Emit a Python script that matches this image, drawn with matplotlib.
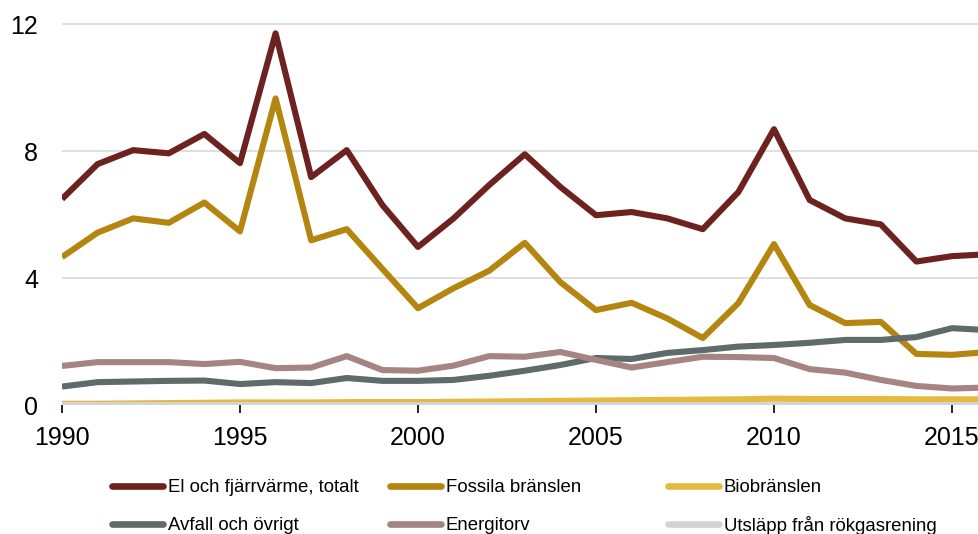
import numpy as np
import matplotlib.pyplot as plt
from matplotlib.lines import Line2D

plt.rcParams['font.family'] = ['Liberation Sans', 'DejaVu Sans']

years = np.arange(1990, 2017)

el_fjarrvarme = [6.5, 7.6, 8.04, 7.94, 8.55, 7.63, 11.72, 7.19, 8.04, 6.31,
                 4.99, 5.89, 6.94, 7.91, 6.88, 5.99, 6.09, 5.89, 5.55, 6.72,
                 8.7, 6.47, 5.89, 5.70, 4.53, 4.70, 4.76]
fossila = [4.67, 5.44, 5.89, 5.75, 6.39, 5.48, 9.67, 5.2, 5.55, 4.3,
           3.06, 3.69, 4.24, 5.12, 3.88, 3.0, 3.23, 2.74, 2.12, 3.22,
           5.08, 3.16, 2.59, 2.63, 1.62, 1.59, 1.68]
biobranslen = [0.05, 0.05, 0.06, 0.07, 0.08, 0.09, 0.09, 0.09, 0.1, 0.1,
               0.1, 0.11, 0.12, 0.13, 0.14, 0.15, 0.16, 0.17, 0.18, 0.19,
               0.21, 0.2, 0.2, 0.2, 0.19, 0.19, 0.19]
avfall = [0.59, 0.73, 0.75, 0.77, 0.78, 0.67, 0.73, 0.70, 0.86, 0.77,
          0.77, 0.8, 0.93, 1.09, 1.27, 1.49, 1.46, 1.65, 1.74, 1.85,
          1.9, 1.97, 2.06, 2.06, 2.15, 2.43, 2.37]
energitorv = [1.24, 1.36, 1.36, 1.36, 1.30, 1.37, 1.17, 1.19, 1.55, 1.11,
              1.09, 1.25, 1.55, 1.53, 1.68, 1.43, 1.19, 1.36, 1.53, 1.52,
              1.49, 1.14, 1.03, 0.8, 0.61, 0.53, 0.56]
rokgasrening = [0.02] * len(years)

series = [
    ("El och fjärrvärme, totalt", el_fjarrvarme, "#6d221f"),
    ("Fossila bränslen", fossila, "#b5860f"),
    ("Biobränslen", biobranslen, "#e6b93f"),
    ("Avfall och övrigt", avfall, "#5f6b6b"),
    ("Energitorv", energitorv, "#a68481"),
    ("Utsläpp från rökgasrening", rokgasrening, "#d3d3d3"),
]

W, H = 979, 534
fig = plt.figure(figsize=(W / 100, H / 100), dpi=100)
ax = fig.add_axes([0.0633, 0.241, 0.9367, 0.731])

for label, values, color in series:
    ax.plot(years, values, color=color, lw=4.4, label=label,
            solid_joinstyle='round', solid_capstyle='butt')

ax.set_xlim(1990, 1990 + 917 / 35.6)
ax.set_ylim(0, 12.3)
ax.set_yticks([0, 4, 8, 12])
ax.set_xticks(np.arange(1990, 2016, 5))
ax.grid(axis='y', color='#d9d9d9', lw=1.2)
ax.set_axisbelow(True)
for sp in ax.spines.values():
    sp.set_visible(False)

ax.tick_params(axis='y', length=0, pad=17, labelsize=18)
ax.tick_params(axis='x', length=6, width=1.2, color='black',
               direction='out', pad=9, labelsize=18)

# legend drawn by hand: 3 columns x 2 rows on a fixed grid
col_x = [109, 387, 665]
row_y = [486, 523.5]
for i, (label, _, color) in enumerate(series):
    x0 = col_x[i % 3]
    y = 1 - row_y[i // 3] / H
    fig.add_artist(Line2D([(x0 + 3) / W, (x0 + 54) / W], [y, y],
                          transform=fig.transFigure, color=color,
                          lw=4.8, solid_capstyle='round'))
    fig.text((x0 + 59) / W, y, label, fontsize=13.4, va='center_baseline',
             ha='left')

fig.savefig('out.png', dpi=100)
